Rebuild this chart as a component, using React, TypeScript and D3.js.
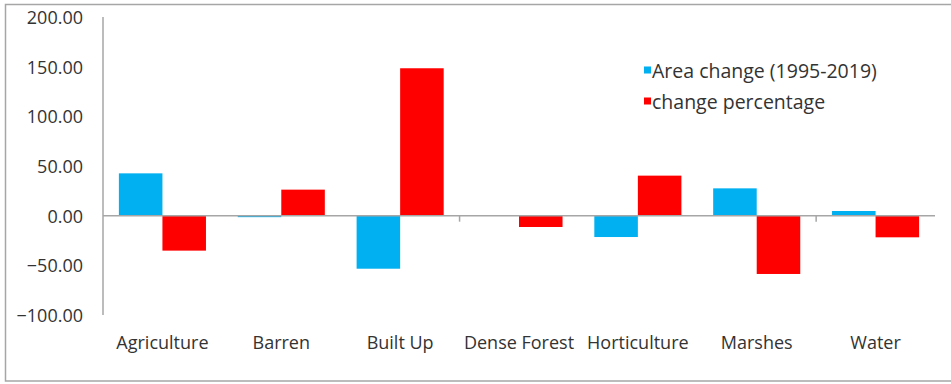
import React from "react";
import * as d3 from "d3";

// Land-cover classes and their changes
const categories = ["Agriculture", "Barren", "Built Up", "Dense Forest", "Horticulture", "Marshes", "Water"];
const areaChange = [42.6, -1.5, -53.4, 0, -21.5, 27.5, 4.7];
const changePercentage = [-35.2, 26.2, 148.4, -11.4, 40.3, -58.7, -21.8];
const seriesNames = ["Area change (1995-2019)", "change percentage"];
const yTicks = [200, 150, 100, 50, 0, -50, -100];

const WIDTH = 951;
const HEIGHT = 384;
const COLORS = ["#00B0F0", "#FF0000"];
const AXIS = "#A6A6A6";
const TEXT = "#333333";
const FONT = "'Open Sans', Lato, sans-serif";

export default function App() {
  const plot = { left: 103, right: 935, top: 17, bottom: 315 };

  const y = d3.scaleLinear().domain([-100, 200]).range([plot.bottom, plot.top]);
  const x0 = d3.scaleBand<string>().domain(categories).range([plot.left, plot.right]);
  // gap between clusters is 73% of one bar's width
  const gap = 0.73 / 2.73;
  const barW = (x0.bandwidth() * (1 - gap)) / 2;
  const offset = (x0.bandwidth() * gap) / 2;

  const series = [areaChange, changePercentage];
  const fmt = d3.format(".2f");
  const zeroY = y(0);

  return (
    <svg
      width={WIDTH}
      height={HEIGHT}
      style={{ position: "absolute", left: 0, top: 0, background: "#fff" }}
      fontFamily={FONT}
    >
      <rect x={0} y={0} width={WIDTH} height={HEIGHT} fill="#fff" />
      {/* chart frame */}
      <rect x={5.5} y={4.5} width={WIDTH + 10} height={376.5} fill="none" stroke="#A6A6A6" strokeWidth={1.5} />

      {/* y axis */}
      <line x1={plot.left} x2={plot.left} y1={plot.top} y2={plot.bottom} stroke={AXIS} strokeWidth={1.5} />
      {yTicks.map((t) => (
        <text
          key={t}
          x={83}
          y={y(t)}
          textAnchor="end"
          dominantBaseline="central"
          fontSize={18}
          fill={TEXT}
        >
          {fmt(t)}
        </text>
      ))}

      {/* bars */}
      {series.map((vals, si) =>
        vals.map((v, i) => {
          const bx = (x0(categories[i]) as number) + offset + si * barW;
          const y1 = y(Math.max(0, v));
          const y2 = y(Math.min(0, v));
          return (
            <rect
              key={`${si}-${i}`}
              x={bx}
              y={y1}
              width={barW}
              height={Math.max(0, y2 - y1)}
              fill={COLORS[si]}
            />
          );
        })
      )}

      {/* category axis along zero */}
      <line x1={plot.left} x2={plot.right} y1={zeroY} y2={zeroY} stroke={AXIS} strokeWidth={1.5} />
      {[3, 6].map((k) => {
        const tx = plot.left + k * x0.step();
        return <line key={k} x1={tx} x2={tx} y1={zeroY} y2={zeroY + 6} stroke={AXIS} strokeWidth={1.5} />;
      })}
      {categories.map((c) => (
        <text
          key={c}
          x={(x0(c) as number) + x0.bandwidth() / 2}
          y={349}
          textAnchor="middle"
          fontSize={18}
          fill={TEXT}
        >
          {c}
        </text>
      ))}

      {/* legend */}
      {seriesNames.map((name, i) => (
        <g key={name} transform={`translate(644, ${70 + i * 31})`}>
          <rect x={0} y={-3.5} width={7} height={7} fill={COLORS[i]} />
          <text x={8} y={0} dominantBaseline="central" fontSize={19.5} fill={TEXT}>
            {name}
          </text>
        </g>
      ))}
    </svg>
  );
}
